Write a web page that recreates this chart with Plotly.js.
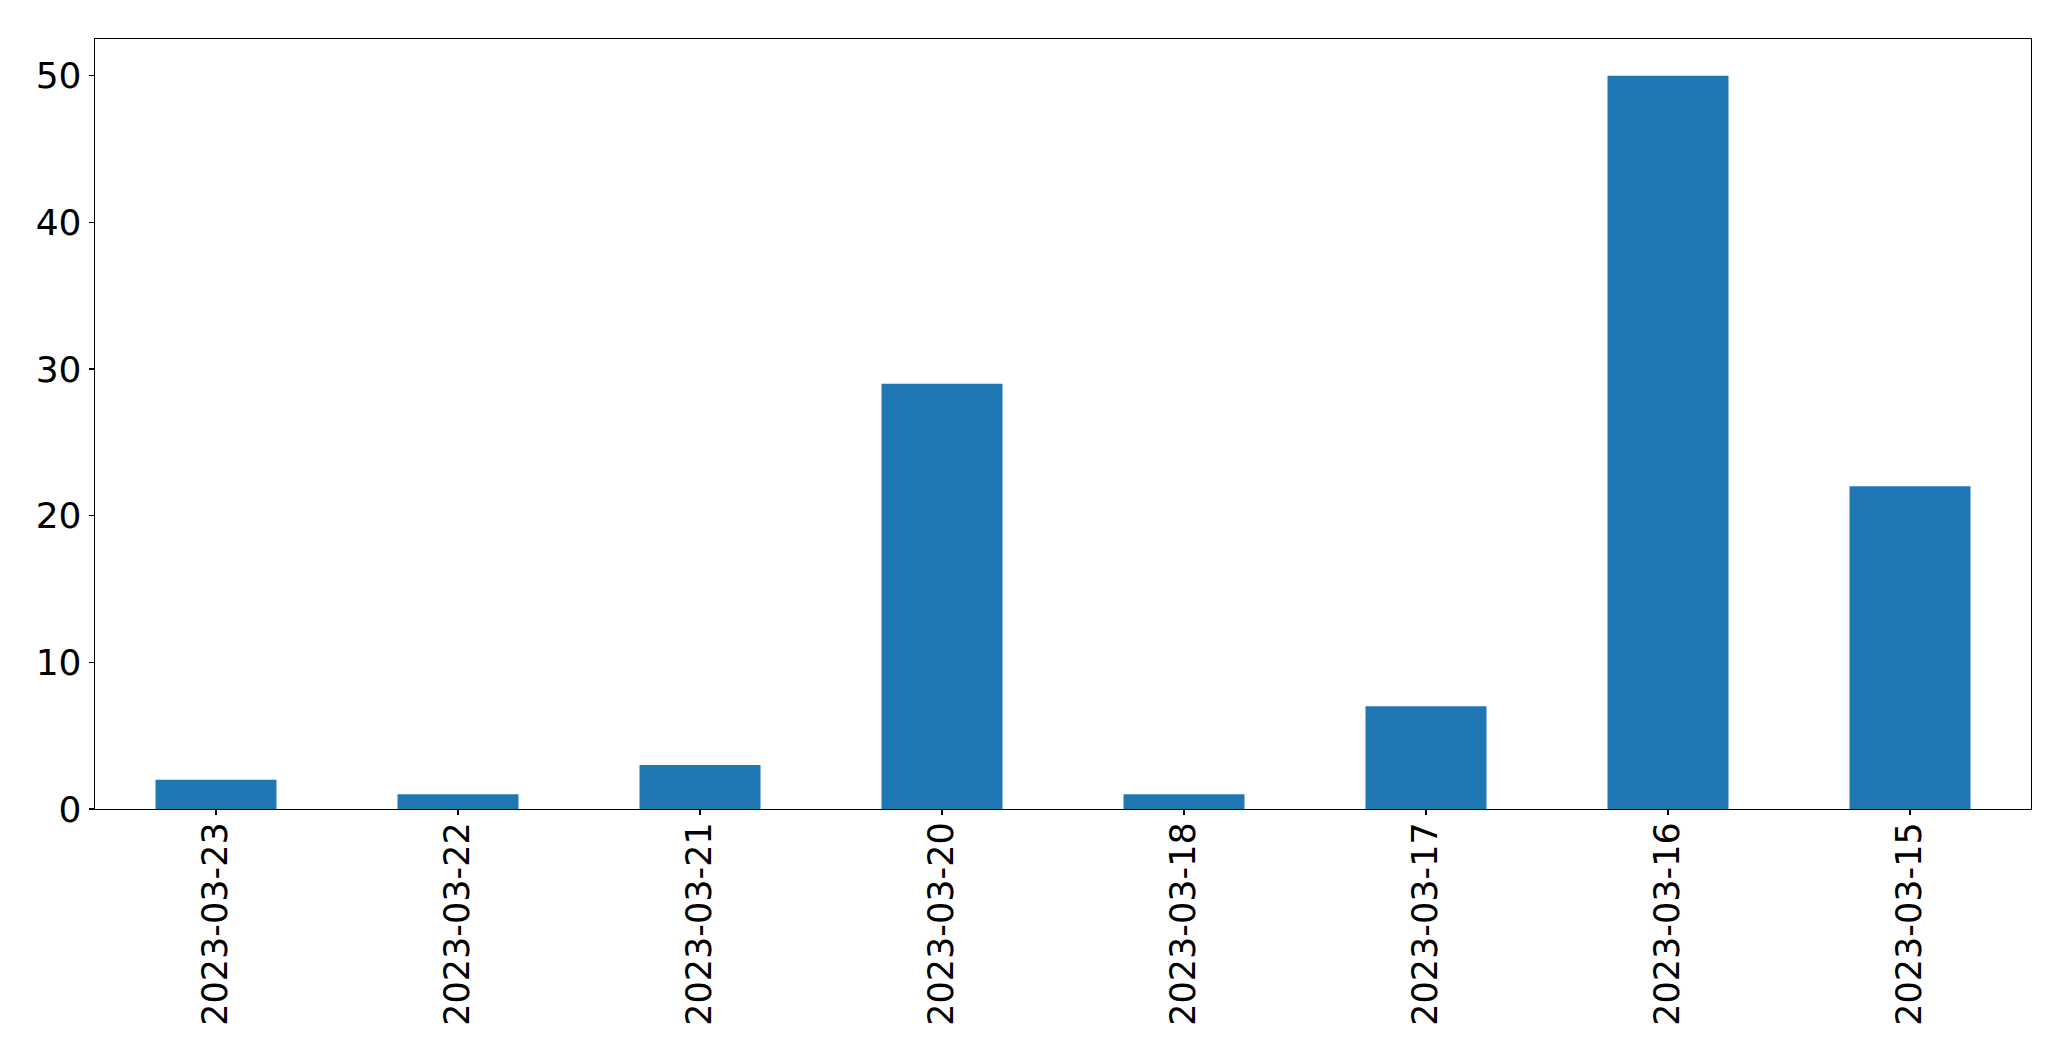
<!DOCTYPE html>
<html>
<head>
<meta charset="utf-8">
<script src="https://cdn.plot.ly/plotly-3.0.1.min.js"></script>
<style>html,body{margin:0;padding:0;background:#fff;}#chart{width:2071px;height:1061px;}</style>
</head>
<body>
<div id="chart"></div>
<script>
const categories = ["2023-03-23","2023-03-22","2023-03-21","2023-03-20","2023-03-18","2023-03-17","2023-03-16","2023-03-15"];
const counts = [2, 1, 3, 29, 1, 7, 50, 22];
const yTicks = [0, 10, 20, 30, 40, 50];

const trace = {
  type: 'bar',
  x: categories,
  y: counts,
  width: 0.5,
  marker: {color: '#1f77b4', line: {width: 0}},
  hoverinfo: 'x+y'
};

const layout = {
  width: 2071,
  height: 1061,
  paper_bgcolor: '#fff',
  plot_bgcolor: '#fff',
  margin: {l: 94.5, r: 39.7, t: 39.3, b: 251.7, pad: 0},
  showlegend: false,
  font: {family: 'DejaVu Sans', color: '#000'},
  xaxis: {
    type: 'category',
    range: [-0.5, 7.5],
    tickangle: -90,
    ticks: 'outside',
    ticklen: 5,
    tickwidth: 1.3,
    tickcolor: '#000',
    ticklabelstandoff: -7,
    tickfont: {family: 'DejaVu Sans', size: 35, color: '#000'},
    showgrid: false,
    zeroline: false,
    showline: true,
    linecolor: '#000',
    linewidth: 1.3,
    mirror: true,
    fixedrange: true
  },
  yaxis: {
    range: [0, 52.5],
    tickvals: yTicks,
    ticktext: yTicks.map(String),
    ticks: 'outside',
    ticklen: 5,
    tickwidth: 1.3,
    tickcolor: '#000',
    tickfont: {family: 'DejaVu Sans', size: 36, color: '#000'},
    showgrid: false,
    zeroline: false,
    showline: true,
    linecolor: '#000',
    linewidth: 1.3,
    mirror: true,
    fixedrange: true
  }
};

Plotly.newPlot('chart', [trace], layout, {displayModeBar: false, staticPlot: true});
</script>
</body>
</html>
